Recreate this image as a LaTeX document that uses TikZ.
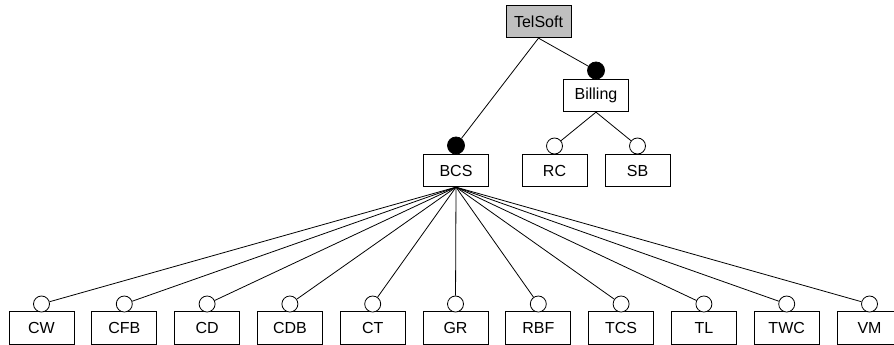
\documentclass[tikz,border=0pt]{standalone}
\usepackage{fontspec}
\setmainfont{Liberation Sans}
\begin{document}
\begin{tikzpicture}[x=1pt,y=-1pt,
  feat/.style={draw, line width=0.8pt, minimum width=65pt, minimum height=32.5pt,
    inner sep=0pt, font=\fontsize{16}{18}\selectfont},
  rootfeat/.style={feat, fill=black!25},
  optional/.style={circle, draw, line width=0.8pt, fill=white, minimum size=16pt, inner sep=0pt},
  mandatory/.style={circle, draw, line width=0.8pt, fill=black, minimum size=17pt, inner sep=0pt},
  link/.style={line width=0.8pt}]
\useasboundingbox (0,0) rectangle (894,345);

% top levels
\node[rootfeat] (TelSoft) at (538.5,21.5) {TelSoft};
\node[feat] (Billing) at (596,95.5) {Billing};
\node[mandatory] (Billing-c) at (596,70.5) {};
\node[feat] (BCS) at (456,170.5) {BCS};
\node[mandatory] (BCS-c) at (456,145.5) {};
\node[feat] (RC) at (554.5,170.5) {RC};
\node[optional] (RC-c) at (554.5,146) {};
\node[feat] (SB) at (637.5,170.5) {SB};
\node[optional] (SB-c) at (637.5,146) {};

\draw[link] (TelSoft.south) -- (BCS-c);
\draw[link] (TelSoft.south) -- (Billing-c);
\draw[link] (Billing.south) -- (RC-c);
\draw[link] (Billing.south) -- (SB-c);

% optional sub-features of BCS
\foreach \lab [count=\i from 0] in {CW,CFB,CD,CDB,CT,GR,RBF,TCS,TL,TWC,VM} {
  \node[feat] (\lab) at ({41.5+82.8*\i},328) {\lab};
  \node[optional] (\lab-c) at ({41.5+82.8*\i},304) {};
  \draw[link] (BCS.south) -- (\lab-c);
}
\end{tikzpicture}
\end{document}
